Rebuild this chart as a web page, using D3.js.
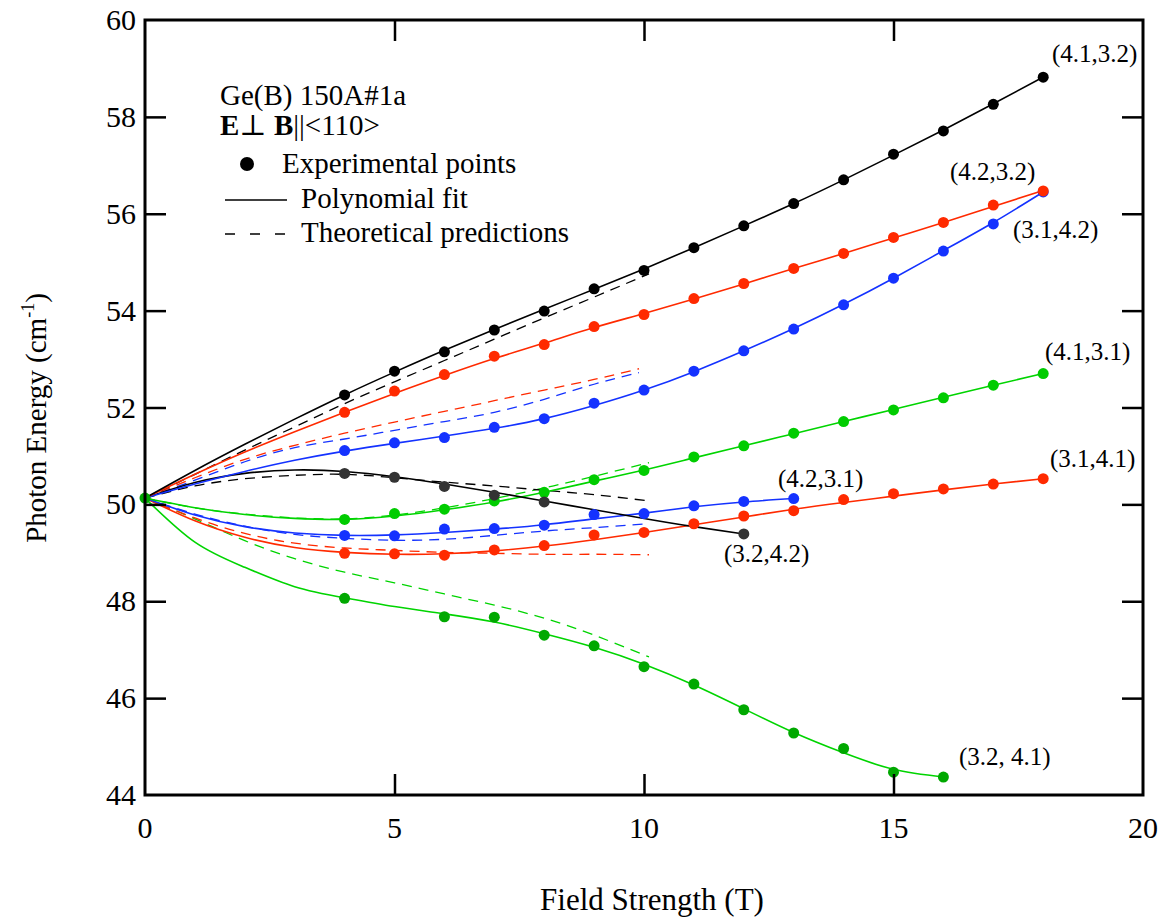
<!DOCTYPE html>
<html>
<head>
<meta charset="utf-8">
<script src="https://cdn.jsdelivr.net/npm/d3@7"></script>
<style>
  body { margin: 0; background: #fff; }
  svg { display: block; }
  svg text { font-family: "Liberation Serif", "DejaVu Serif", serif; }
</style>
</head>
<body>
<svg id="chart" width="1164" height="918" font-family="Liberation Serif, DejaVu Serif, serif"></svg>
<script>
// ---------- axis ranges and ticks ----------
const xDomain = [0, 20];
const yDomain = [44, 60];
const xTicks = [0, 5, 10, 15, 20];
const yTicks = [44, 46, 48, 50, 52, 54, 56, 58, 60];

// ---------- zero-field line (cm^-1) ----------
const zeroField = [0, 50.13];

// ---------- experimental points: field (T) and photon energy (cm^-1) ----------
const b_41_32 = [4, 5, 6, 7, 8, 9, 10, 11, 12, 13, 14, 15, 16, 17, 18];
const e_41_32 = [52.26, 52.75, 53.15, 53.60, 53.99, 54.45, 54.83, 55.30, 55.75, 56.21, 56.70, 57.23, 57.71, 58.26, 58.82];

const b_42_32 = [4, 5, 6, 7, 8, 9, 10, 11, 12, 13, 14, 15, 16, 17, 18];
const e_42_32 = [51.90, 52.34, 52.68, 53.06, 53.30, 53.67, 53.92, 54.25, 54.56, 54.87, 55.18, 55.51, 55.82, 56.18, 56.47];

const b_31_42 = [4, 5, 6, 7, 8, 9, 10, 11, 12, 13, 14, 15, 16, 17, 18];
const e_31_42 = [51.11, 51.27, 51.38, 51.59, 51.77, 52.09, 52.36, 52.75, 53.17, 53.62, 54.12, 54.67, 55.23, 55.79, 56.45];

const b_41_31 = [4, 5, 6, 7, 8, 9, 10, 11, 12, 13, 14, 15, 16, 17, 18];
const e_41_31 = [49.69, 49.81, 49.90, 50.07, 50.25, 50.51, 50.70, 50.98, 51.21, 51.47, 51.71, 51.95, 52.20, 52.46, 52.70];

const b_31_41 = [4, 5, 6, 7, 8, 9, 10, 11, 12, 13, 14, 15, 16, 17, 18];
const e_31_41 = [48.99, 48.98, 48.95, 49.06, 49.15, 49.37, 49.42, 49.60, 49.76, 49.87, 50.10, 50.22, 50.32, 50.42, 50.53];

const b_42_31 = [4, 5, 6, 7, 8, 9, 10, 11, 12, 13];
const e_42_31 = [49.36, 49.35, 49.49, 49.50, 49.57, 49.79, 49.81, 49.97, 50.06, 50.12];

const b_32_42 = [4, 5, 6, 7, 8, 12];
const e_32_42 = [50.64, 50.56, 50.37, 50.19, 50.05, 49.39];

const b_32_41 = [4, 6, 7, 8, 9, 10, 11, 12, 13, 14, 15, 16];
const e_32_41 = [48.06, 47.68, 47.67, 47.30, 47.08, 46.65, 46.29, 45.76, 45.28, 44.96, 44.47, 44.37];

// ---------- polynomial fits (sampled at whole tesla) ----------
const fitB18 = [0, 1, 2, 3, 4, 5, 6, 7, 8, 9, 10, 11, 12, 13, 14, 15, 16, 17, 18];
const fitB16 = [0, 1, 2, 3, 4, 5, 6, 7, 8, 9, 10, 11, 12, 13, 14, 15, 16];
const fitB13 = [0, 1, 2, 3, 4, 5, 6, 7, 8, 9, 10, 11, 12, 13];
const fitB12 = [0, 1, 2, 3, 4, 5, 6, 7, 8, 9, 10, 11, 12];

const fit_41_32 = [50.13, 50.70, 51.24, 51.76, 52.26, 52.73, 53.18, 53.61, 54.03, 54.44, 54.86, 55.30, 55.75, 56.21, 56.70, 57.21, 57.73, 58.27, 58.82];
const fit_42_32 = [50.13, 50.62, 51.08, 51.50, 51.90, 52.29, 52.66, 53.01, 53.33, 53.65, 53.94, 54.24, 54.55, 54.87, 55.18, 55.50, 55.82, 56.15, 56.48];
const fit_31_42 = [50.13, 50.42, 50.68, 50.91, 51.10, 51.26, 51.41, 51.57, 51.77, 52.04, 52.36, 52.74, 53.17, 53.63, 54.13, 54.67, 55.24, 55.82, 56.45];
const fit_41_31 = [50.13, 49.93, 49.79, 49.71, 49.69, 49.76, 49.89, 50.05, 50.25, 50.48, 50.71, 50.96, 51.21, 51.46, 51.71, 51.96, 52.21, 52.46, 52.70];
const fit_31_41 = [50.13, 49.66, 49.32, 49.11, 49.01, 48.97, 48.98, 49.04, 49.14, 49.27, 49.42, 49.58, 49.74, 49.90, 50.04, 50.17, 50.30, 50.42, 50.53];
const fit_42_31 = [50.13, 49.78, 49.54, 49.41, 49.36, 49.37, 49.42, 49.49, 49.58, 49.70, 49.82, 49.95, 50.05, 50.12];
const fit_32_42 = [50.13, 50.45, 50.64, 50.71, 50.68, 50.57, 50.42, 50.25, 50.07, 49.89, 49.71, 49.54, 49.39];
const fit_32_41 = [50.13, 49.22, 48.70, 48.30, 48.07, 47.89, 47.74, 47.57, 47.33, 47.05, 46.70, 46.27, 45.78, 45.29, 44.87, 44.53, 44.37];

// ---------- theoretical predictions ----------
const thB = [0, 1, 2, 3, 4, 5, 6, 7, 8, 9, 10.1];
const thBShort = [0, 1, 2, 3, 4, 5, 6, 7, 8, 9, 9.9];
const th_41_32 = [50.13, 50.62, 51.12, 51.60, 52.08, 52.53, 52.97, 53.41, 53.85, 54.28, 54.76];
const th_42_32 = [50.13, 50.55, 50.93, 51.22, 51.47, 51.70, 51.92, 52.14, 52.36, 52.58, 52.80];
const th_31_42 = [50.13, 50.50, 50.88, 51.17, 51.35, 51.53, 51.71, 51.90, 52.17, 52.48, 52.72];
const th_32_42 = [50.13, 50.38, 50.53, 50.60, 50.62, 50.55, 50.46, 50.38, 50.29, 50.20, 50.07];
const th_41_31 = [50.13, 49.93, 49.80, 49.72, 49.70, 49.78, 49.93, 50.12, 50.34, 50.58, 50.86];
const th_42_31 = [50.13, 49.80, 49.55, 49.38, 49.30, 49.26, 49.28, 49.36, 49.45, 49.52, 49.60];
const th_31_41 = [50.13, 49.72, 49.40, 49.20, 49.10, 49.05, 49.01, 48.99, 48.97, 48.97, 48.96];
const th_32_41 = [50.13, 49.70, 49.25, 48.88, 48.60, 48.38, 48.15, 47.92, 47.65, 47.30, 46.85];

// ---------- colours ----------
const BLACK = "#000000", DARK = "#333333";
const RED = "#ff2a00", BLUE = "#1432ff";
const GREEN = "#00d400", GREEN_DOT = "#00cc00", GREEN_DARK = "#00a800";

const zip = (xs, ys) => xs.map((v, i) => [v, ys[i]]);

// series in drawing order (later ones on top)
const series = [
  { label: "(3.2, 4.1)", pts: zip(b_32_41, e_32_41), fit: zip(fitB16, fit_32_41), th: zip(thB, th_32_41), line: GREEN, dot: GREEN_DARK, lab: [959, 765] },
  { label: "(3.1,4.1)", pts: zip(b_31_41, e_31_41), fit: zip(fitB18, fit_31_41), th: zip(thB, th_31_41), line: RED, dot: RED, lab: [1050, 467] },
  { label: "(4.2,3.1)", pts: zip(b_42_31, e_42_31), fit: zip(fitB13, fit_42_31), th: zip(thB, th_42_31), line: BLUE, dot: BLUE, lab: [778, 487] },
  { label: "(4.1,3.1)", pts: zip(b_41_31, e_41_31), fit: zip(fitB18, fit_41_31), th: zip(thB, th_41_31), line: GREEN, dot: GREEN_DOT, lab: [1045, 360] },
  { label: "(3.2,4.2)", pts: zip(b_32_42, e_32_42), fit: zip(fitB12, fit_32_42), th: zip(thB, th_32_42), line: BLACK, dot: DARK, lab: [724, 562] },
  { label: "(3.1,4.2)", pts: zip(b_31_42, e_31_42), fit: zip(fitB18, fit_31_42), th: zip(thBShort, th_31_42), line: BLUE, dot: BLUE, lab: [1013, 238] },
  { label: "(4.2,3.2)", pts: zip(b_42_32, e_42_32), fit: zip(fitB18, fit_42_32), th: zip(thBShort, th_42_32), line: RED, dot: RED, lab: [950, 180] },
  { label: "(4.1,3.2)", pts: zip(b_41_32, e_41_32), fit: zip(fitB18, fit_41_32), th: zip(thB, th_41_32), line: BLACK, dot: BLACK, lab: [1052, 62] }
];

// ---------- layout ----------
const frameL = 145, frameT = 20, frameR = 1143, frameB = 795;
const svg = d3.select("#chart");
const x = d3.scaleLinear().domain(xDomain).range([frameL, frameR]);
const y = d3.scaleLinear().domain(yDomain).range([frameB, frameT]);

const line = d3.line().x(d => x(d[0])).y(d => y(d[1])).curve(d3.curveNatural);

const plot = svg.append("g");

// dashed theoretical curves
plot.selectAll("path.th").data(series).join("path")
  .attr("class", "th")
  .attr("d", d => line(d.th))
  .attr("fill", "none")
  .attr("stroke", d => d.line)
  .attr("stroke-width", 1.3)
  .attr("stroke-dasharray", "10,7");

// solid polynomial fits
plot.selectAll("path.fit").data(series).join("path")
  .attr("class", "fit")
  .attr("d", d => line(d.fit))
  .attr("fill", "none")
  .attr("stroke", d => d.line)
  .attr("stroke-width", 1.6);

// experimental points
series.forEach(s => {
  plot.append("g").selectAll("circle").data(s.pts).join("circle")
    .attr("cx", d => x(d[0]))
    .attr("cy", d => y(d[1]))
    .attr("r", 5.5)
    .attr("fill", s.dot);
});

// zero-field point
plot.append("circle")
  .attr("cx", x(zeroField[0])).attr("cy", y(zeroField[1]))
  .attr("r", 5.5).attr("fill", GREEN_DARK);

// transition labels
svg.append("g").selectAll("text").data(series).join("text")
  .attr("x", d => d.lab[0]).attr("y", d => d.lab[1])
  .attr("font-size", 25)
  .attr("fill", "#000")
  .text(d => d.label);

// ---------- axes: frame with inward ticks on all four sides ----------
const axes = svg.append("g");
axes.append("rect")
  .attr("x", frameL).attr("y", frameT)
  .attr("width", frameR - frameL).attr("height", frameB - frameT)
  .attr("fill", "none").attr("stroke", "#000").attr("stroke-width", 3);

const tickLen = 21;
const innerX = v => v !== xDomain[0] && v !== xDomain[1];
const innerY = v => v !== yDomain[0] && v !== yDomain[1];
const styleTicks = g => {
  g.select(".domain").remove();
  g.selectAll("line").attr("stroke-width", 2.5);
};

axes.append("g").attr("transform", `translate(0,${frameB})`)
  .call(d3.axisBottom(x).tickValues(xTicks.filter(innerX)).tickSizeInner(-tickLen).tickSizeOuter(0).tickFormat(""))
  .call(styleTicks);
axes.append("g").attr("transform", `translate(0,${frameT})`)
  .call(d3.axisTop(x).tickValues(xTicks.filter(innerX)).tickSizeInner(-tickLen).tickSizeOuter(0).tickFormat(""))
  .call(styleTicks);
axes.append("g").attr("transform", `translate(${frameL},0)`)
  .call(d3.axisLeft(y).tickValues(yTicks.filter(innerY)).tickSizeInner(-tickLen).tickSizeOuter(0).tickFormat(""))
  .call(styleTicks);
axes.append("g").attr("transform", `translate(${frameR},0)`)
  .call(d3.axisRight(y).tickValues(yTicks.filter(innerY)).tickSizeInner(-tickLen).tickSizeOuter(0).tickFormat(""))
  .call(styleTicks);

// tick labels
axes.append("g").selectAll("text").data(xTicks).join("text")
  .attr("x", d => x(d)).attr("y", 838)
  .attr("text-anchor", "middle").attr("font-size", 30)
  .text(d => d);
axes.append("g").selectAll("text").data(yTicks).join("text")
  .attr("x", 136).attr("y", d => y(d) + 10)
  .attr("text-anchor", "end").attr("font-size", 30)
  .text(d => d);

// axis titles
svg.append("text")
  .attr("x", 652).attr("y", 910)
  .attr("text-anchor", "middle").attr("font-size", 31)
  .text("Field Strength (T)");

const yt = svg.append("text")
  .attr("transform", "translate(46,418) rotate(-90)")
  .attr("text-anchor", "middle").attr("font-size", 29);
yt.append("tspan").text("Photon Energy (cm");
yt.append("tspan").attr("font-size", 18).attr("dy", -12).text("-1");
yt.append("tspan").attr("dy", 12).text(")");

// ---------- legend ----------
const lg = svg.append("g").attr("font-size", 29);
lg.append("text").attr("x", 220).attr("y", 105).text("Ge(B) 150A#1a");
const l2 = lg.append("text").attr("x", 220).attr("y", 135);
l2.append("tspan").attr("font-weight", "bold").text("E");
l2.append("tspan").text("\u22A5 ");
l2.append("tspan").attr("font-weight", "bold").text("B");
l2.append("tspan").text("||<110>");

lg.append("circle").attr("cx", 247).attr("cy", 164).attr("r", 7).attr("fill", "#000");
lg.append("text").attr("x", 282).attr("y", 173).text("Experimental points");

lg.append("line").attr("x1", 225).attr("x2", 287).attr("y1", 200).attr("y2", 200)
  .attr("stroke", "#000").attr("stroke-width", 1.5);
lg.append("text").attr("x", 301).attr("y", 208).text("Polynomial fit");

lg.append("line").attr("x1", 225).attr("x2", 287).attr("y1", 234).attr("y2", 234)
  .attr("stroke", "#000").attr("stroke-width", 1.5).attr("stroke-dasharray", "10,15");
lg.append("text").attr("x", 301).attr("y", 242).text("Theoretical predictions");
</script>
</body>
</html>
